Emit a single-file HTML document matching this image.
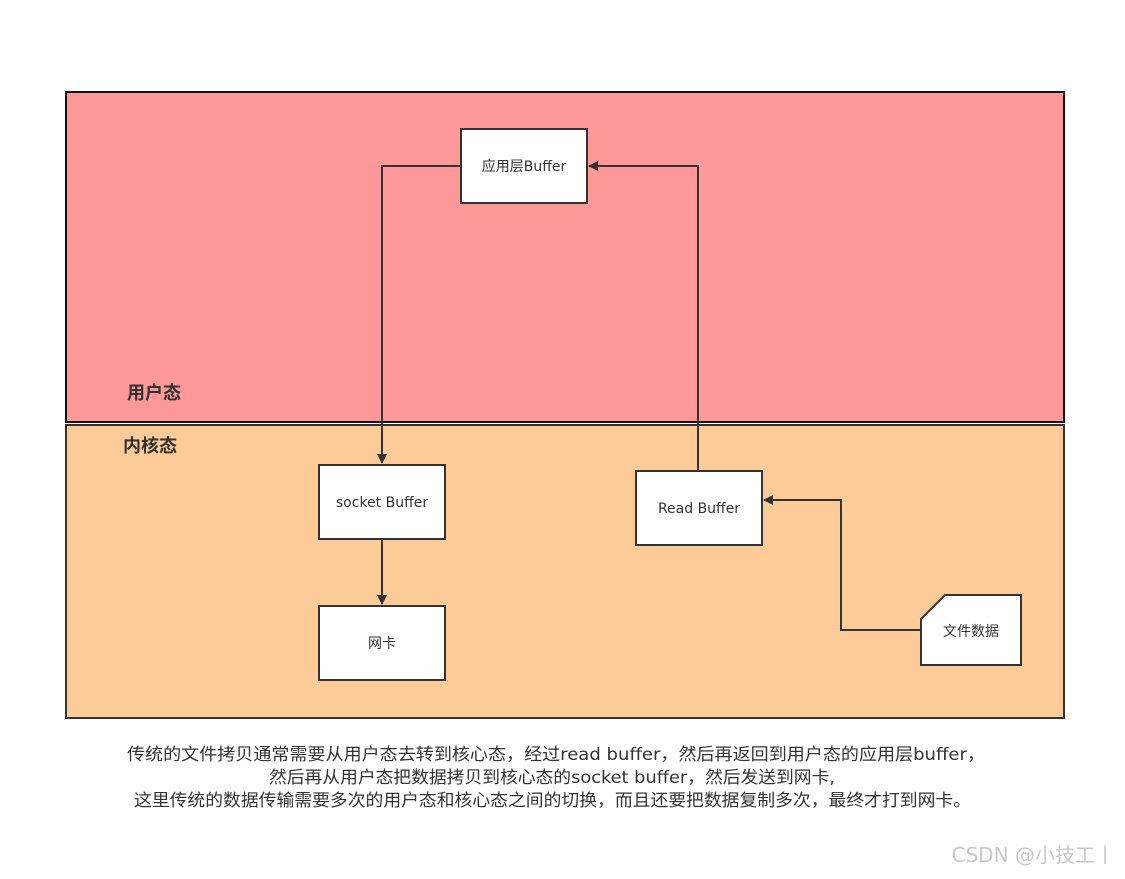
<!DOCTYPE html>
<html><head><meta charset="utf-8"><style>
body{margin:0;background:#fff;}
svg text{font-family:"DejaVu Sans","Noto Sans CJK SC",sans-serif;fill:#333;}
</style></head><body>
<svg width="1125" height="874" xmlns="http://www.w3.org/2000/svg">
<defs><marker id="a" markerWidth="10" markerHeight="10" refX="9" refY="5" orient="auto" markerUnits="userSpaceOnUse"><path d="M0,0 L10,5 L0,10 Z" fill="#333"/></marker></defs>
<rect x="66" y="92" width="998" height="330" fill="#ff9999" stroke="#111" stroke-width="2"/>
<rect x="66" y="425" width="998" height="293" fill="#ffcc99" stroke="#333" stroke-width="2"/>
<text x="127" y="399" font-size="18" font-weight="bold">用户态</text>
<text x="123" y="452" font-size="18" font-weight="bold">内核态</text>
<g fill="#fff" stroke="#333" stroke-width="2">
<rect x="461" y="129" width="126" height="74"/>
<rect x="319" y="465" width="126" height="74"/>
<rect x="319" y="606" width="126" height="74"/>
<rect x="636" y="471" width="126" height="74"/>
<path d="M945,595 L1021,595 L1021,665 L921,665 L921,619 Z"/>
</g>
<g font-size="14" text-anchor="middle">
<text x="524" y="171">应用层Buffer</text>
<text x="382" y="507">socket Buffer</text>
<text x="382" y="648">网卡</text>
<text x="699" y="513">Read Buffer</text>
<text x="971" y="636">文件数据</text>
</g>
<g fill="none" stroke="#333" stroke-width="2">
<path d="M461,166 L382,166 L382,463" marker-end="url(#a)"/>
<path d="M698,471 L698,166 L589,166" marker-end="url(#a)"/>
<path d="M921,630 L841,630 L841,500 L764,500" marker-end="url(#a)"/>
<path d="M382,539 L382,604" marker-end="url(#a)"/>
</g>
<g font-size="17">
<text x="127" y="760" textLength="858" lengthAdjust="spacingAndGlyphs">传统的文件拷贝通常需要从用户态去转到核心态，经过read buffer，然后再返回到用户态的应用层buffer，</text>
<text x="269" y="783" textLength="566" lengthAdjust="spacingAndGlyphs">然后再从用户态把数据拷贝到核心态的socket buffer，然后发送到网卡,</text>
<text x="134" y="806" textLength="837" lengthAdjust="spacingAndGlyphs">这里传统的数据传输需要多次的用户态和核心态之间的切换，而且还要把数据复制多次，最终才打到网卡。</text>
</g>
<text x="1115" y="862" font-size="20" text-anchor="end" style="fill:#c8c8c8">CSDN @小技工丨</text>
</svg>
</body></html>
